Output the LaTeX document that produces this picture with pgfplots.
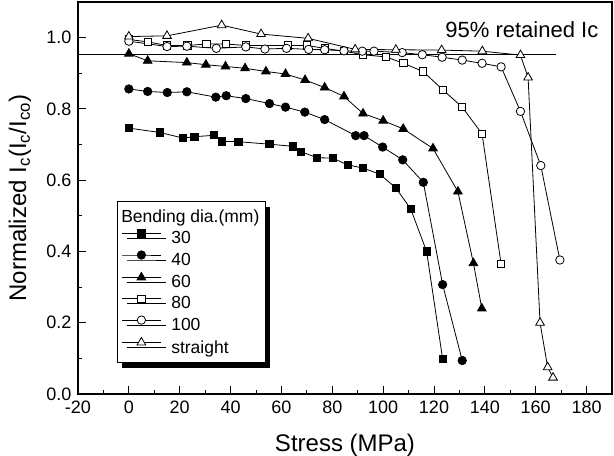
\documentclass[border=0pt]{standalone}
\usepackage{fontspec}
\setmainfont{Liberation Sans}
\usepackage{pgfplots}
\pgfplotsset{compat=1.18}
\usetikzlibrary{shadows}

\begin{document}
\begin{tikzpicture}
\begin{axis}[
  name=ax,
  scale only axis, width=534bp, height=392bp,
  xmin=-20, xmax=190, ymin=0, ymax=1.1,
  xtick={-20,0,20,40,60,80,100,120,140,160,180},
  ytick={0,0.2,0.4,0.6,0.8,1.0},
  minor x tick num=1, minor y tick num=1,
  tick align=inside, xtick pos=bottom, ytick pos=left,
  major tick length=8bp, minor tick length=4bp,
  axis line style={line width=1.2bp},
  tick style={line width=1bp, black},
  /pgf/number format/assume math mode=true,
  yticklabel style={/pgf/number format/fixed, /pgf/number format/fixed zerofill, /pgf/number format/precision=1, xshift=-3bp},
  xticklabel style={yshift=-3bp},
  ticklabel style={font=\fontsize{18bp}{21bp}\selectfont},
  label style={font=\fontsize{24bp}{28bp}\selectfont},
  xlabel={Stress (MPa)},
  ylabel={Normalized I\textsubscript{c}(I\textsubscript{c}/I\textsubscript{co})},
  xlabel style={at={(rel axis cs:0.5,0)}, anchor=center, yshift=-51bp},
  ylabel style={at={(rel axis cs:0,0.5)}, anchor=center, yshift=58bp},
  every axis plot/.append style={line width=0.8bp, black},
  legend cell align=left,
  legend image code/.code={\draw[mark repeat=2,mark phase=2,#1] plot coordinates {(0bp,5bp) (19.5bp,5bp) (39bp,5bp)};},
  legend style={at={(rel axis cs:0.073,0.079)}, anchor=south west, draw=black, line width=1bp, fill=white,
    font=\fontsize{17.5bp}{20bp}\selectfont, row sep=3.5bp, column sep=8bp, inner xsep=4bp, inner ysep=6bp,
    drop shadow={shadow xshift=5bp, shadow yshift=-5bp, fill=black, opacity=1}},
]
\addlegendimage{empty legend}
\addlegendentry{\hspace*{-50bp}Bending dia.(mm)}

\addplot[black, forget plot] coordinates {(-20,0.953) (168,0.953)};

\addplot[mark=square*, mark size=3.6bp, mark options={fill=black, solid}] coordinates {
(0,0.746) (12.1,0.734) (21.4,0.718) (25.8,0.722) (33.6,0.726) (36.7,0.709) (43.1,0.708)
(55.3,0.701) (64.6,0.695) (67.7,0.680) (74,0.663) (80.2,0.662) (86,0.643) (92.1,0.634)
(98.6,0.617) (104.9,0.579) (110.8,0.520) (117.1,0.400) (123.4,0.098)};
\addlegendentry{30}

\addplot[mark=*, mark size=4.2bp, mark options={fill=black, solid}] coordinates {
(0,0.856) (7.4,0.849) (15.1,0.846) (22.8,0.848) (34.2,0.833) (38.3,0.837) (46,0.829)
(55.3,0.815) (61.6,0.805) (69.2,0.791) (77,0.770) (89.2,0.725) (92.5,0.725) (99.8,0.693)
(107.7,0.657) (115.8,0.594) (123.4,0.307) (131.1,0.094)};
\addlegendentry{40}

\addplot[mark=triangle*, mark size=5bp, mark options={fill=black, solid}] coordinates {
(0,0.955) (7.4,0.935) (22.8,0.930) (30.3,0.924) (38,0.919) (45.7,0.914) (53.9,0.905)
(61.6,0.898) (69.3,0.881) (77,0.860) (84.6,0.835) (92.1,0.787) (100,0.767) (107.9,0.744)
(119.6,0.689) (129.4,0.568) (135.5,0.367) (138.8,0.240)};
\addlegendentry{60}

\addplot[mark=square*, mark size=3.6bp, mark options={fill=white, solid}] coordinates {
(0,0.995) (7.5,0.988) (15,0.978) (23,0.978) (30.5,0.982) (38.3,0.982) (46,0.978)
(62.5,0.978) (70,0.978) (77,0.970) (84.6,0.962) (92,0.952) (101,0.946) (108,0.928)
(115.7,0.905) (123.4,0.854) (131.1,0.805) (138.9,0.730) (146.4,0.364)};
\addlegendentry{80}

\addplot[mark=*, mark size=4.2bp, mark options={fill=white, solid}] coordinates {
(0,0.990) (15,0.975) (22.8,0.976) (34.4,0.970) (46,0.974) (53.5,0.968) (62,0.970)
(70.7,0.967) (77,0.966) (84.6,0.963) (91.8,0.962) (96.4,0.962) (107.5,0.958) (115.4,0.952)
(123.2,0.945) (131.1,0.937) (138.9,0.928) (146.4,0.918) (154,0.793) (162,0.641) (169.5,0.376)};
\addlegendentry{100}

\addplot[mark=triangle*, mark size=5bp, mark options={fill=white, solid}] coordinates {
(0,1.003) (15,1.005) (36.5,1.035) (52,1.01) (70.5,0.998) (89,0.967) (105,0.966)
(123,0.965) (139,0.962) (154,0.951) (157,0.888) (161.7,0.200) (164.7,0.075) (166.8,0.046)};
\addlegendentry{straight}

\node[anchor=east, font=\fontsize{22bp}{26bp}\selectfont] at (axis cs:186,1.022) {95\% retained Ic};
\end{axis}
\pgfresetboundingbox
\path[use as bounding box] ([xshift=-78bp,yshift=-62bp]ax.south west) rectangle ([xshift=2bp,yshift=2bp]ax.north east);
\end{tikzpicture}
\end{document}
